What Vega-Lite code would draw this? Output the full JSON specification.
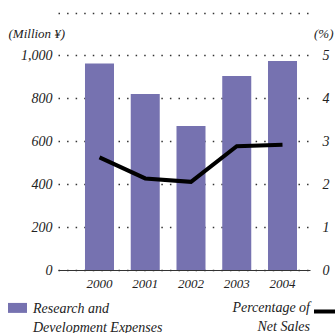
{
  "$schema": "https://vega.github.io/schema/vega-lite/v6.json",
  "width": 252,
  "height": 215,
  "autosize": "none",
  "padding": {"left": 58, "top": 55, "right": 25, "bottom": 63},
  "background": "white",
  "config": {
    "view": {"stroke": null},
    "font": "Liberation Serif",
    "style": {"guide-label": {"lineHeight": 19}},
    "axis": {
      "labelFont": "Liberation Serif",
      "labelFontStyle": "italic",
      "labelColor": "#222",
      "titleFont": "Liberation Serif",
      "titleFontStyle": "italic",
      "titleFontWeight": "normal",
      "titleColor": "#222",
      "titleFontSize": 13
    },
    "legend": {
      "labelFont": "Liberation Serif",
      "labelFontStyle": "italic",
      "labelColor": "#222",
      "labelFontSize": 14,
      "padding": 0,
      "labelLimit": 400
    }
  },
  "data": {
    "values": [
      {"year": "2000", "rd": 961, "pct": 2.62},
      {"year": "2001", "rd": 819, "pct": 2.13},
      {"year": "2002", "rd": 670, "pct": 2.05},
      {"year": "2003", "rd": 902, "pct": 2.88},
      {"year": "2004", "rd": 972, "pct": 2.91}
    ]
  },
  "layer": [
    {
      "mark": {"type": "bar"},
      "encoding": {
        "x": {
          "field": "year",
          "type": "ordinal",
          "scale": {"paddingInner": 0.366, "paddingOuter": 0.437, "align": 0.675},
          "axis": {
            "title": null,
            "labelAngle": 0,
            "labelFontSize": 13,
            "labelPadding": 7,
            "ticks": false,
            "domainColor": "#333",
            "domainWidth": 1
          }
        },
        "y": {
          "field": "rd",
          "type": "quantitative",
          "scale": {"domain": [0, 1000]},
          "axis": {
            "title": "(Million ¥)",
            "titleAngle": 0,
            "titleAlign": "left",
            "titleBaseline": "alphabetic",
            "titleX": -50,
            "titleY": -18,
            "domain": false,
            "ticks": false,
            "labelPadding": 6,
            "labelFontSize": 14,
            "values": [0, 200, 400, 600, 800, 1000],
            "format": ",.0f",
            "grid": true,
            "gridDash": [1.5, 7.07],
            "gridColor": "#333",
            "gridWidth": 1.5
          }
        },
        "color": {
          "datum": "rd",
          "scale": {"domain": ["rd"], "range": ["#7672b0"]},
          "legend": {
            "orient": "none",
            "legendX": -50,
            "legendY": 237,
            "title": null,
            "symbolType": "M-1,0.15H1V1.2H-1Z",
            "symbolSize": 361,
            "symbolStrokeWidth": 0,
            "symbolOpacity": 1,
            "labelOffset": 6,
            "labelBaseline": "top",
            "labelExpr": "['Research and', 'Development Expenses']"
          }
        }
      }
    },
    {
      "mark": {"type": "line", "strokeWidth": 4},
      "encoding": {
        "x": {
          "field": "year",
          "type": "ordinal",
          "axis": {
            "orient": "top",
            "title": null,
            "labels": false,
            "ticks": false,
            "domain": true,
            "domainDash": [1.5, 7.07],
            "domainColor": "#333",
            "domainWidth": 1.5,
            "offset": 42
          }
        },
        "y": {
          "field": "pct",
          "type": "quantitative",
          "scale": {"domain": [0, 5]},
          "axis": {
            "orient": "right",
            "title": "(%)",
            "titleAngle": 0,
            "titleAlign": "right",
            "titleBaseline": "alphabetic",
            "titleX": 23,
            "titleY": -18,
            "domain": false,
            "ticks": false,
            "grid": false,
            "labelPadding": 12,
            "labelFontSize": 14,
            "values": [0, 1, 2, 3, 4, 5]
          }
        },
        "stroke": {
          "datum": "pct",
          "scale": {"domain": ["pct"], "range": ["black"]},
          "legend": {
            "orient": "none",
            "legendX": 254,
            "legendY": 229,
            "title": null,
            "symbolType": "M-1,0.7H1",
            "symbolSize": 900,
            "symbolStrokeWidth": 4,
            "symbolStrokeColor": "black",
            "labelOffset": -36,
            "labelAlign": "right",
            "labelBaseline": "top",
            "labelExpr": "['Percentage of', 'Net Sales']"
          }
        }
      }
    }
  ],
  "resolve": {"scale": {"y": "independent"}, "axis": {"x": "independent"}}
}
